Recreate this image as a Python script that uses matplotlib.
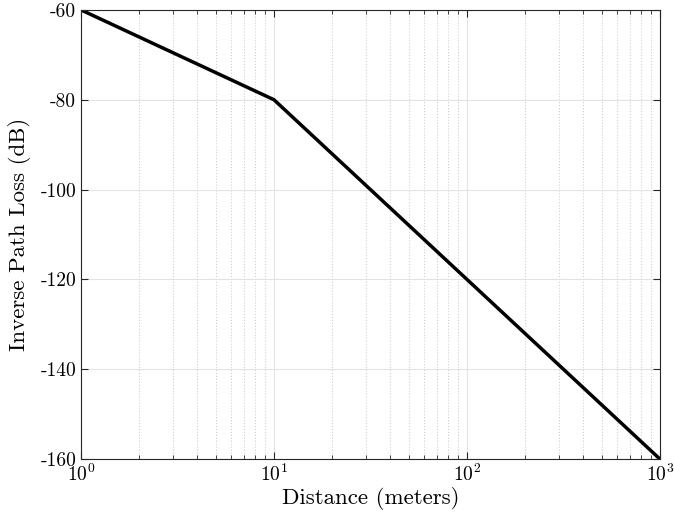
import numpy as np
import matplotlib
matplotlib.use("Agg")
import matplotlib.pyplot as plt

# distance breakpoints (m) and inverse path loss (dB)
distance = [1, 10, 1000]
loss_db = [-60, -80, -160]

plt.rcParams['font.family'] = ['serif']
plt.rcParams['font.serif'] = ['cmr10']
plt.rcParams['mathtext.fontset'] = 'cm'
plt.rcParams['axes.unicode_minus'] = False
plt.rcParams['axes.formatter.use_mathtext'] = True

fig = plt.figure(figsize=(6.74, 5.22), dpi=100)
ax = fig.add_axes([0.1202, 0.1207, 0.979 - 0.1202, 0.981 - 0.1207])

ax.semilogx(distance, loss_db, color='black', linewidth=2.5, solid_capstyle='butt')

ax.set_xlim(1, 1000)
ax.set_ylim(-160, -60)
ax.set_yticks([-160, -140, -120, -100, -80, -60])
ax.set_yticklabels(['-160', '-140', '-120', '-100', '-80', '-60'])

ax.grid(True, which='major', color='#e3e3e3', linestyle='-', linewidth=0.8)
ax.grid(True, which='minor', axis='x', color='#d0d0d0', linestyle=':', linewidth=0.8)
ax.set_axisbelow(True)

ax.tick_params(which='both', direction='in', top=True, right=True, labelsize=14,
               color='#262626')
ax.tick_params(which='major', length=5)
ax.tick_params(which='minor', length=3)
for s in ax.spines.values():
    s.set_color('#262626')
    s.set_linewidth(0.8)

ax.set_xlabel('Distance (meters)', fontsize=16.5, labelpad=1)
ax.set_ylabel('Inverse Path Loss (dB)', fontsize=16.5, labelpad=7)

fig.savefig('out.png', dpi=100)
